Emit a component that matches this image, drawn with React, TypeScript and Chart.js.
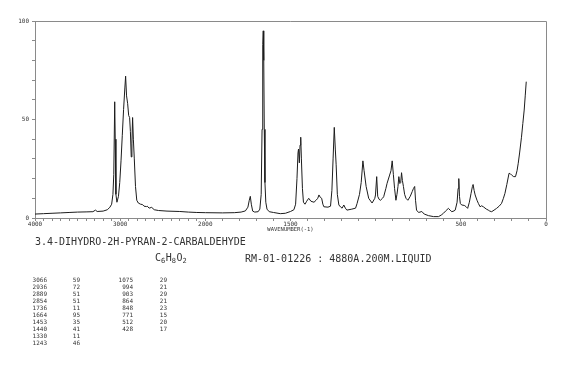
import React, { useEffect, useRef } from 'react';
import { Chart, registerables } from 'chart.js';

Chart.register(...registerables);

// ---- spectrum (wavenumber in cm-1, relative intensity) ----
const specWavenumbers: number[] = [
  4000, 3900, 3800, 3700, 3600, 3500, 3400, 3320, 3290, 3270, 3200, 3150, 3120, 3100, 3085, 3075, 3064, 3058, 3050, 3038,
  3020, 3005, 2990, 2975, 2960, 2945, 2936, 2925, 2912, 2900, 2889, 2880, 2870, 2862, 2854, 2845, 2834, 2820, 2805, 2787,
  2760, 2737, 2720, 2690, 2682, 2660, 2630, 2600, 2550, 2450, 2300, 2200, 2100, 2000, 1900, 1830, 1790, 1765, 1750, 1742,
  1736, 1730, 1722, 1710, 1690, 1680, 1672, 1667, 1663, 1660, 1657, 1654, 1650, 1645, 1638, 1625, 1600, 1560, 1530, 1500,
  1480, 1470, 1462, 1456, 1453, 1448, 1444, 1440, 1436, 1430, 1424, 1415, 1405, 1393, 1380, 1362, 1350, 1340, 1333, 1325,
  1317, 1310, 1304, 1280, 1265, 1257, 1250, 1243, 1237, 1232, 1225, 1216, 1205, 1197, 1187, 1178, 1169, 1140, 1118, 1109,
  1095, 1085, 1075, 1068, 1056, 1041, 1021, 1005, 1001, 994, 988, 980, 972, 960, 953, 940, 933, 918, 910, 903,
  896, 889, 881, 875, 869, 864, 858, 853, 848, 843, 837, 830, 822, 811, 797, 785, 778, 771, 766, 760,
  748, 740, 729, 715, 690, 660, 631, 615, 602, 590, 573, 563, 553, 540, 533, 522, 516, 512, 508, 503,
  495, 480, 470, 460, 450, 440, 432, 428, 422, 416, 405, 397, 387, 378, 368, 350, 339, 330, 319, 305,
  290, 275, 261, 250, 241, 230, 217, 210, 202, 190, 179, 170, 163, 155, 144, 136, 128, 122, 116,
];
const specIntensity: number[] = [
  2.0, 2.2, 2.4, 2.6, 2.8, 3.0, 3.1, 3.2, 4.0, 3.3, 3.5, 4.2, 5.5, 7, 12, 22, 59, 40, 12, 8,
  11, 18, 29, 42, 55, 66, 72, 62, 58, 52, 51, 44, 31, 38, 51, 40, 30, 16, 9, 7.6,
  7, 6.8, 6, 5.8, 6, 5, 5.4, 4.2, 3.8, 3.5, 3.3, 3.0, 2.8, 2.7, 2.6, 2.7, 3, 3.6, 5.5, 9,
  11, 7, 3.5, 3, 3.2, 4.5, 12, 45, 88, 95, 80, 45, 18, 8, 4.5, 3.2, 2.8, 2.2, 2.4, 3.3,
  4.2, 7, 20, 33, 35, 28, 37, 41, 30, 15, 8, 7, 8.5, 10, 8.5, 8, 9, 10, 11.7, 10.5,
  10, 7, 5.7, 5.5, 6, 14, 30, 46, 35, 27, 12, 6.6, 5.5, 5, 6.6, 5, 4, 4.5, 5, 7.4,
  12, 18, 29, 24, 16, 10, 7.6, 10, 11.7, 21, 11, 9.5, 9, 10, 10.8, 15, 17.6, 21.8, 24, 29,
  22, 15, 9, 12, 16, 21, 17.5, 18, 23, 19, 16, 12, 10, 9, 11, 13.5, 15, 16, 9, 4,
  2.8, 3, 3.3, 2, 1.2, 0.7, 0.7, 1.5, 2.4, 3.5, 4.9, 4, 3.2, 3.6, 4, 8, 15, 20, 11, 7.4,
  6.6, 6.4, 5.8, 4.9, 8, 12.5, 16, 17, 14, 11.7, 9, 7.4, 5.7, 6.2, 5.7, 4.5, 4, 3.5, 3.2, 4,
  4.9, 6, 7.4, 10, 12.5, 17, 22.7, 22.5, 21.8, 21, 21, 24, 27.8, 33, 41, 48, 54.8, 62, 69.2,
];

// ---- axis ticks ----
const xTickLabels: number[] = [4000, 3000, 2000, 1500, 500, 0];
const xMinorStep = 100;
const yTickLabels: number[] = [0, 50, 100];
const yMinorStep = 10;

// ---- peak table ----
const peakWavenumbersLeft: number[] = [3066, 2936, 2889, 2854, 1736, 1664, 1453, 1440, 1330, 1243];
const peakIntensitiesLeft: number[] = [59, 72, 51, 51, 11, 95, 35, 41, 11, 46];
const peakWavenumbersRight: number[] = [1075, 994, 903, 864, 848, 771, 512, 428];
const peakIntensitiesRight: number[] = [29, 21, 29, 21, 23, 15, 20, 17];

// ---- texts ----
const compoundName = '3.4-DIHYDRO-2H-PYRAN-2-CARBALDEHYDE';
const formulaParts: [string, string][] = [['C', '6'], ['H', '8'], ['O', '2']];
const sampleInfo = 'RM-01-01226 : 4880A.200M.LIQUID';
const axisTitle = 'WAVENUMBER(-1)';

// 2:1 scale expansion below 2000 cm-1
const toU = (w: number) => (w >= 2000 ? 4000 - w : 2000 + (2000 - w) * 2);
const fromU = (u: number) => (u <= 2000 ? 4000 - u : 2000 - (u - 2000) / 2);

const MONO = '"DejaVu Sans Mono", monospace';
const AXIS_COLOR = '#8a8a8a';
const TEXT_COLOR = '#333';

export default function App() {
  const canvasRef = useRef<HTMLCanvasElement | null>(null);

  useEffect(() => {
    const canvas = canvasRef.current;
    if (!canvas) return;

    const xTicks: number[] = [];
    for (let w = 4000; w >= 0; w -= xMinorStep) xTicks.push(w);
    const yTicks: number[] = [];
    for (let v = 0; v <= 100; v += yMinorStep) yTicks.push(v);

    const overlay = {
      id: 'overlay',
      afterDraw(chart: any) {
        const { ctx, chartArea } = chart;
        const xs = chart.scales.x;
        ctx.save();
        // frame top + right
        ctx.strokeStyle = AXIS_COLOR;
        ctx.lineWidth = 1;
        ctx.beginPath();
        ctx.moveTo(chartArea.left, chartArea.top + 0.5);
        ctx.lineTo(chartArea.right + 0.5, chartArea.top + 0.5);
        ctx.lineTo(chartArea.right + 0.5, chartArea.bottom);
        ctx.stroke();

        ctx.fillStyle = TEXT_COLOR;
        // axis title under 1500
        ctx.font = `5.5px ${MONO}`;
        ctx.textAlign = 'center';
        ctx.textBaseline = 'middle';
        ctx.fillText(axisTitle, xs.getPixelForValue(toU(1500)), 230);

        // compound name
        ctx.font = `10px ${MONO}`;
        ctx.textAlign = 'left';
        ctx.textBaseline = 'middle';
        ctx.fillText(compoundName, 35, 242);

        // formula
        let fx = 155;
        for (const [el, n] of formulaParts) {
          ctx.font = `10px ${MONO}`;
          ctx.fillText(el, fx, 258);
          fx += ctx.measureText(el).width;
          ctx.font = `7px ${MONO}`;
          ctx.fillText(n, fx, 261);
          fx += ctx.measureText(n).width + 0.5;
        }

        // sample info
        ctx.font = `10px ${MONO}`;
        ctx.fillText(sampleInfo, 245, 259);

        // peak table
        ctx.font = `6px ${MONO}`;
        ctx.textAlign = 'right';
        const rowY0 = 280;
        const pitch = 7.1;
        peakWavenumbersLeft.forEach((w, i) => {
          ctx.fillText(String(w), 47, rowY0 + i * pitch);
          ctx.fillText(String(peakIntensitiesLeft[i]), 80, rowY0 + i * pitch);
        });
        peakWavenumbersRight.forEach((w, i) => {
          ctx.fillText(String(w), 133, rowY0 + i * pitch);
          ctx.fillText(String(peakIntensitiesRight[i]), 167, rowY0 + i * pitch);
        });
        ctx.restore();
      },
    };

    const chart = new Chart(canvas, {
      type: 'line',
      data: {
        datasets: [
          {
            data: specWavenumbers.map((w, i) => ({ x: toU(w), y: specIntensity[i] })),
            borderColor: '#1c1c1c',
            borderWidth: 1,
            pointRadius: 0,
            tension: 0,
            fill: false,
          },
        ],
      },
      options: {
        animation: false,
        responsive: false,
        maintainAspectRatio: false,
        layout: { padding: { left: 0, top: 21, right: 24, bottom: 0 } },
        plugins: { legend: { display: false }, tooltip: { enabled: false } },
        scales: {
          x: {
            type: 'linear',
            min: 0,
            max: 6000,
            afterBuildTicks: (s: any) => {
              s.ticks = xTicks.map((w) => ({ value: toU(w) }));
            },
            afterFit: (s: any) => {
              s.height = 148;
            },
            ticks: {
              autoSkip: false,
              maxRotation: 0,
              minRotation: 0,
              padding: 0,
              color: TEXT_COLOR,
              font: { family: MONO, size: 6 },
              callback: (v: any) => {
                const w = Math.round(fromU(Number(v)));
                return xTickLabels.includes(w) ? String(w) : '';
              },
            },
            grid: { drawOnChartArea: false, drawTicks: true, tickLength: 3, color: AXIS_COLOR },
            border: { display: true, color: AXIS_COLOR },
          },
          y: {
            min: 0,
            max: 100,
            afterBuildTicks: (s: any) => {
              s.ticks = yTicks.map((v) => ({ value: v }));
            },
            afterFit: (s: any) => {
              s.width = 35;
            },
            ticks: {
              autoSkip: false,
              padding: 3,
              color: TEXT_COLOR,
              font: { family: MONO, size: 6 },
              callback: (v: any) => (yTickLabels.includes(Number(v)) ? String(v) : ''),
            },
            grid: { drawOnChartArea: false, drawTicks: true, tickLength: 3, color: AXIS_COLOR },
            border: { display: true, color: AXIS_COLOR },
          },
        },
      },
      plugins: [overlay],
    });

    return () => chart.destroy();
  }, []);

  return (
    <div style={{ position: 'absolute', left: 0, top: 0, width: 570, height: 366, background: '#fff' }}>
      <canvas ref={canvasRef} width={570} height={366} style={{ display: 'block', width: 570, height: 366 }} />
    </div>
  );
}
